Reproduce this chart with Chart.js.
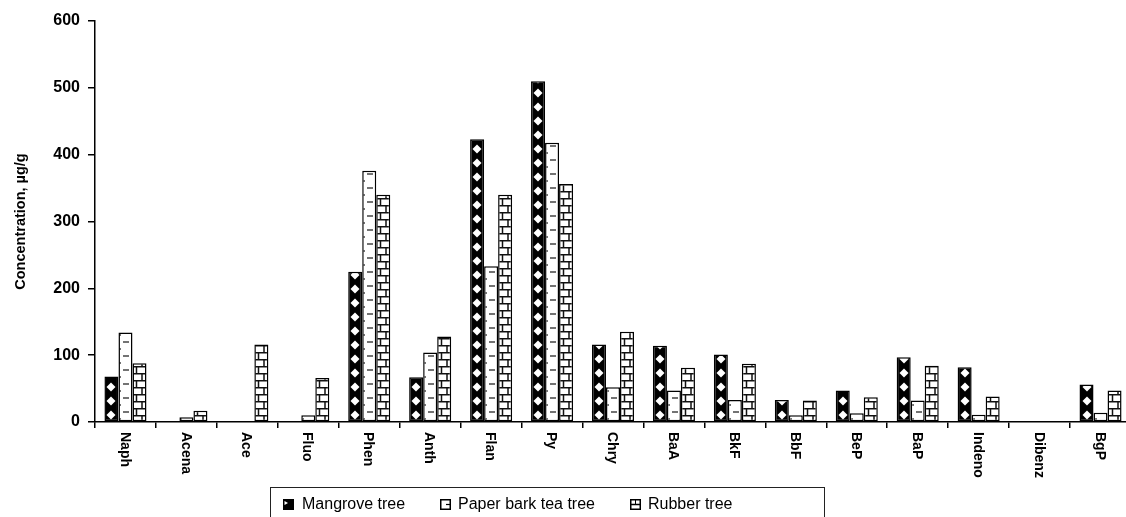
<!DOCTYPE html>
<html>
<head>
<meta charset="utf-8">
<script src="https://cdn.jsdelivr.net/npm/chart.js@4/dist/chart.umd.min.js"></script>
<style>
  html, body { margin: 0; padding: 0; background: #fff; overflow: hidden; width: 1126px; height: 517px; }
  #wrap { position: relative; width: 1126px; height: 517px; overflow: hidden; }
  #c { position: absolute; left: 0; top: 0; }
  #legend { position: absolute; left: 270px; top: 487px; width: 555px; height: 40px; border: 1.5px solid #222; box-sizing: border-box; font-family: "Liberation Sans", Arial, sans-serif; font-size: 16px; color: #000; }
  .item { position: absolute; top: 7px; white-space: nowrap; }
  .icon { position: absolute; top: 11px; }
</style>
</head>
<body>
<div id="wrap">
  <canvas id="c" width="1132" height="517"></canvas>
  <div id="legend">
    <svg class="icon" style="left:12px" width="11" height="11" viewBox="0 0 11 11"><rect x="0.75" y="0.75" width="9.5" height="9.5" fill="#000" stroke="#000" stroke-width="1.5"/><path d="M1.5 2 L5 4 L1.5 6 Z" fill="#fff"/></svg>
    <span class="item" style="left:31px">Mangrove tree</span>
    <svg class="icon" style="left:169px" width="11" height="11" viewBox="0 0 11 11"><rect x="0.75" y="0.75" width="9.5" height="9.5" fill="#fff" stroke="#000" stroke-width="1.5"/><path d="M6 5.5 L10 5.5" stroke="#000" stroke-width="1.2"/></svg>
    <span class="item" style="left:187px">Paper bark tea tree</span>
    <svg class="icon" style="left:359px" width="11" height="11" viewBox="0 0 11 11"><rect x="0.75" y="0.75" width="9.5" height="9.5" fill="#fff" stroke="#000" stroke-width="1.5"/><path d="M1 5.5 L10 5.5" stroke="#000" stroke-width="1.5"/><path d="M5.5 1 L5.5 5.5" stroke="#000" stroke-width="1"/></svg>
    <span class="item" style="left:377px">Rubber tree</span>
  </div>
</div>
<script>
const categories = ['Naph','Acena','Ace','Fluo','Phen','Anth','Flan','Py','Chry','BaA','BkF','BbF','BeP','BaP','Indeno','Dibenz','BgP'];
const seriesNames = ['Mangrove tree','Paper bark tea tree','Rubber tree'];
const mangrove = [68, 0, 0, 0, 225, 67, 423, 510, 116, 114, 101, 33, 47, 97, 82, 0, 56];
const paperBark = [134, 7, 0, 10, 376, 104, 233, 418, 52, 47, 33, 10, 13, 32, 11, 0, 14];
const rubber = [88, 17, 116, 66, 340, 128, 340, 356, 135, 81, 87, 32, 37, 84, 38, 0, 47];
const yTicks = [0, 100, 200, 300, 400, 500, 600];

const CAT_PCT = 0.69;
const FONT = '"Liberation Sans", Arial, sans-serif';

function tile(kind) {
  const c = document.createElement('canvas');
  c.width = 14; c.height = 14;
  const g = c.getContext('2d');
  if (kind === 0) {
    g.fillStyle = '#000'; g.fillRect(0, 0, 14, 14);
    g.fillStyle = '#fff';
    g.beginPath(); g.moveTo(7, 2.5); g.lineTo(11.5, 7); g.lineTo(7, 11.5); g.lineTo(2.5, 7); g.closePath(); g.fill();
  } else if (kind === 1) {
    g.fillStyle = '#fff'; g.fillRect(0, 0, 14, 14);
    g.strokeStyle = '#444'; g.lineWidth = 1.5;
    g.beginPath(); g.moveTo(5, 4); g.lineTo(11, 4); g.stroke();
    g.beginPath(); g.moveTo(0, 11); g.lineTo(3, 11); g.stroke();
  } else {
    g.fillStyle = '#fff'; g.fillRect(0, 0, 14, 14);
    g.strokeStyle = '#111'; g.lineWidth = 1.5;
    g.beginPath(); g.moveTo(0, 0.75); g.lineTo(14, 0.75); g.stroke();
    g.beginPath(); g.moveTo(0, 7.75); g.lineTo(14, 7.75); g.stroke();
    g.beginPath(); g.moveTo(4.5, 0); g.lineTo(4.5, 7); g.stroke();
    g.beginPath(); g.moveTo(10, 7); g.lineTo(10, 14); g.stroke();
  }
  return c;
}
const tiles = [tile(0), tile(1), tile(2)];

function patternFor(context) {
  const chart = context.chart;
  const ds = context.datasetIndex;
  const p = chart.ctx.createPattern(tiles[ds], 'repeat');
  const xs = chart.scales && chart.scales.x;
  if (xs && xs.width > 0 && typeof context.dataIndex === 'number') {
    const catW = xs.width / categories.length;
    const groupW = catW * CAT_PCT;
    const barW = groupW / 3;
    const left = xs.getPixelForValue(context.dataIndex) - groupW / 2 + ds * barW;
    const base = chart.scales.y.getPixelForValue(0);
    try { p.setTransform(new DOMMatrix([1, 0, 0, 1, Math.round(left), Math.round(base)])); } catch (e) {}
  }
  return p;
}

const xLabelPlugin = {
  id: 'xLabels',
  afterDraw(chart) {
    const xs = chart.scales.x;
    const ctx = chart.ctx;
    ctx.save();
    ctx.font = 'bold 14px ' + FONT;
    ctx.fillStyle = '#000';
    ctx.textAlign = 'left';
    ctx.textBaseline = 'middle';
    categories.forEach((lab, i) => {
      const x = xs.getPixelForValue(i);
      ctx.save();
      ctx.translate(x - 1, xs.top + 10);
      ctx.rotate(Math.PI / 2);
      ctx.fillText(lab, 0, 0);
      ctx.restore();
    });
    ctx.restore();
  }
};

const series = [mangrove, paperBark, rubber];
new Chart(document.getElementById('c'), {
  type: 'bar',
  data: {
    labels: categories,
    datasets: series.map((vals, i) => ({
      label: seriesNames[i],
      data: vals,
      backgroundColor: patternFor,
      borderColor: '#000',
      borderWidth: 1.5,
      borderSkipped: false,
      barPercentage: 1.0,
      categoryPercentage: CAT_PCT
    }))
  },
  options: {
    responsive: false,
    animation: false,
    devicePixelRatio: 1,
    layout: { padding: { top: 21, right: 1, bottom: 0, left: 0 } },
    plugins: { legend: { display: false }, tooltip: { enabled: false } },
    scales: {
      x: {
        offset: true,
        grid: { display: true, offset: true, drawOnChartArea: false, drawTicks: true, tickLength: 6, color: '#000', lineWidth: 1.5 },
        border: { display: true, color: '#000', width: 1.5 },
        ticks: { display: false },
        afterFit(scale) { scale.height = 95; }
      },
      y: {
        min: 0, max: 600,
        afterBuildTicks(scale) { scale.ticks = yTicks.map(v => ({ value: v })); },
        grid: { display: true, drawOnChartArea: false, drawTicks: true, tickLength: 7, color: '#000', lineWidth: 1.5 },
        border: { display: true, color: '#000', width: 1.5 },
        ticks: { color: '#000', padding: 8, font: { family: FONT, size: 16, weight: 'bold' } },
        title: { display: true, text: 'Concentration, µg/g', color: '#000', font: { family: FONT, size: 14.5, weight: 'bold' }, padding: { top: 12, bottom: 0 } },
        afterFit(scale) { scale.width = 95; }
      }
    }
  },
  plugins: [xLabelPlugin]
});
</script>
</body>
</html>
